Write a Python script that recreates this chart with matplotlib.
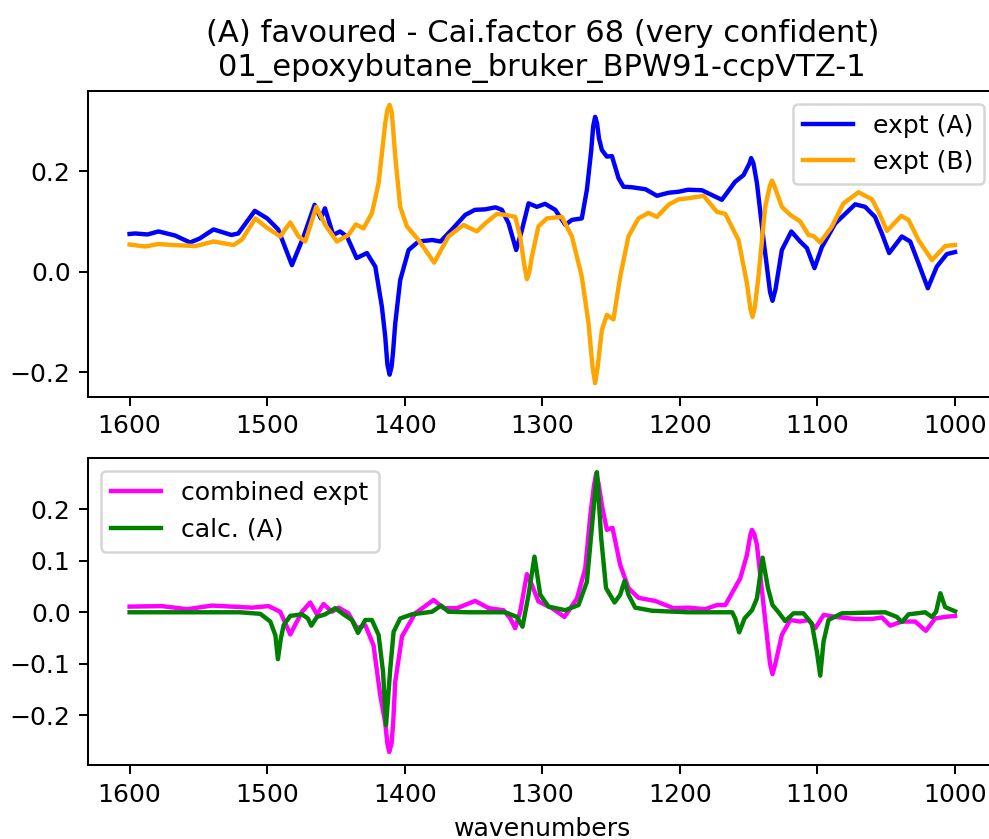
import matplotlib
matplotlib.use("Agg")
import matplotlib.pyplot as plt

# ---- data ----
wn_a = [1600, 1596, 1587, 1579, 1567, 1556, 1549, 1539, 1526, 1521, 1509, 1500, 1492, 1482,
        1473.5, 1465.5, 1461, 1458, 1452, 1447, 1442, 1435, 1427.5, 1421.4, 1416.6, 1414.2,
        1412.6, 1411, 1409.5, 1408.5, 1406.9, 1403.3, 1397.2, 1390, 1380, 1374, 1366, 1356,
        1349, 1341.5, 1334, 1329.4, 1324.5, 1319, 1314.8, 1310, 1304, 1298, 1290.6, 1283.3,
        1278.5, 1271.3, 1267.6, 1264.5, 1263, 1261.6, 1260.2, 1258.8, 1256.7, 1253.1, 1249.4,
        1244.6, 1241, 1235, 1225, 1216.7, 1208.3, 1201, 1194, 1184, 1169.5, 1159.8, 1153.8,
        1149.5, 1148.2, 1146.5, 1144, 1139.2, 1134.5, 1132.7, 1130.5, 1125.9, 1119, 1112.6,
        1107.7, 1102.2, 1096.8, 1087.1, 1072.6, 1065.4, 1058.2, 1053.2, 1047.9, 1038.7,
        1032.6, 1026.6, 1019.8, 1013.3, 1006, 1000]
expt_a = [0.075, 0.076, 0.074, 0.080, 0.072, 0.058, 0.066, 0.084, 0.073, 0.076, 0.121, 0.106,
          0.084, 0.013, 0.070, 0.133, 0.106, 0.126, 0.073, 0.080, 0.070, 0.027, 0.037, 0.010,
          -0.070, -0.129, -0.185, -0.205, -0.188, -0.160, -0.103, -0.017, 0.043, 0.060, 0.063,
          0.060, 0.083, 0.113, 0.123, 0.124, 0.128, 0.123, 0.096, 0.043, 0.083, 0.136, 0.129,
          0.135, 0.123, 0.093, 0.103, 0.106, 0.163, 0.240, 0.290, 0.308, 0.295, 0.265, 0.242,
          0.229, 0.230, 0.186, 0.169, 0.168, 0.164, 0.151, 0.157, 0.159, 0.163, 0.162, 0.143,
          0.179, 0.192, 0.215, 0.226, 0.215, 0.176, 0.063, -0.040, -0.058, -0.035, 0.043,
          0.080, 0.060, 0.047, 0.007, 0.049, 0.096, 0.134, 0.129, 0.109, 0.076, 0.037, 0.070,
          0.060, 0.017, -0.033, 0.010, 0.035, 0.039]

wn_b = [1600, 1588.6, 1579, 1569, 1552, 1539, 1524.4, 1518.3, 1508.6, 1501.4, 1490.5, 1483.2,
        1477.2, 1472.3, 1464.3, 1457.8, 1449.3, 1440.9, 1435.5, 1430, 1423.9, 1419, 1414.2,
        1412.6, 1411, 1409.5, 1408.3, 1406.9, 1403.3, 1398.4, 1390, 1378.6, 1368.2, 1357.3,
        1347.6, 1341.5, 1333, 1327, 1319.7, 1316.1, 1313.2, 1311.2, 1309.4, 1307.6, 1302.8,
        1296.7, 1285.8, 1278.5, 1271.3, 1266.4, 1263.5, 1261.6, 1259.8, 1256.7, 1253.1, 1248.3,
        1243.4, 1237.4, 1230.1, 1222.8, 1216.7, 1208.3, 1201, 1194, 1182.8, 1173.1, 1167,
        1157.4, 1151.3, 1148.7, 1147.2, 1145.5, 1142.9, 1138, 1134.5, 1133.1, 1131.5, 1125.9,
        1119.8, 1112.6, 1106.5, 1102.9, 1098, 1089.5, 1081.1, 1070.2, 1060.4, 1055.6, 1049.5,
        1039.1, 1033.8, 1026.6, 1016.8, 1007.2, 1000]
expt_b = [0.054, 0.050, 0.055, 0.053, 0.051, 0.060, 0.053, 0.064, 0.106, 0.090, 0.070, 0.098,
          0.070, 0.060, 0.129, 0.093, 0.060, 0.073, 0.094, 0.086, 0.116, 0.176, 0.295, 0.322,
          0.332, 0.318, 0.280, 0.229, 0.129, 0.090, 0.063, 0.018, 0.070, 0.093, 0.080, 0.096,
          0.115, 0.113, 0.109, 0.070, 0.015, -0.015, 0.000, 0.030, 0.090, 0.106, 0.109, 0.070,
          -0.010, -0.103, -0.190, -0.222, -0.190, -0.116, -0.086, -0.095, -0.010, 0.070, 0.106,
          0.117, 0.109, 0.133, 0.144, 0.146, 0.151, 0.119, 0.115, 0.063, -0.023, -0.075,
          -0.090, -0.070, -0.010, 0.129, 0.172, 0.181, 0.172, 0.129, 0.113, 0.100, 0.073, 0.071,
          0.058, 0.090, 0.136, 0.158, 0.144, 0.119, 0.081, 0.111, 0.103, 0.063, 0.023, 0.051,
          0.053]

wn_comb = [1600, 1576.5, 1558.3, 1540, 1511, 1499, 1490.5, 1483.2, 1474.7, 1468.7, 1463.8, 1459,
           1452.9, 1448, 1441, 1434.7, 1428.7, 1422.7, 1417.8, 1414.2, 1412.6, 1411.3, 1409.6,
           1408.4, 1406.9, 1402, 1392.4, 1379, 1371.8, 1362, 1348.8, 1339, 1328.2, 1323.3,
           1319.7, 1316.1, 1311.2, 1307.6, 1302.8, 1293, 1283.9, 1274.8, 1268.8, 1265.1, 1262.5,
           1260.8, 1259, 1256.7, 1253.1, 1249, 1243.4, 1237.4, 1230.1, 1218, 1204.7, 1194,
           1181.6, 1173.1, 1167, 1156.1, 1151.3, 1148.8, 1147.6, 1146, 1144, 1139.2, 1134.5,
           1132.7, 1130.8, 1125.9, 1119.8, 1112.6, 1106.5, 1101.6, 1095.5, 1087.1, 1072.6,
           1060.4, 1053.2, 1047.2, 1038.7, 1029, 1021.2, 1014.5, 1007.2, 1000]
combined = [0.011, 0.012, 0.006, 0.013, 0.009, 0.012, 0.001, -0.043, 0.001, 0.019, -0.004, 0.016,
            0.001, 0.009, -0.002, -0.031, -0.025, -0.064, -0.161, -0.215, -0.255, -0.271, -0.255,
            -0.215, -0.135, -0.047, -0.002, 0.024, 0.008, 0.008, 0.022, 0.008, 0.004, -0.012,
            -0.031, 0.001, 0.074, 0.053, 0.021, 0.008, -0.009, 0.027, 0.085, 0.189, 0.245, 0.270,
            0.248, 0.208, 0.160, 0.164, 0.092, 0.047, 0.028, 0.022, 0.008, 0.009, 0.006, 0.014,
            0.014, 0.066, 0.111, 0.150, 0.160, 0.152, 0.131, 0.014, -0.100, -0.120, -0.102,
            -0.044, -0.015, -0.018, -0.015, -0.031, -0.005, -0.009, -0.013, -0.013, -0.010,
            -0.026, -0.018, -0.018, -0.036, -0.012, -0.009, -0.007]

wn_calc = [1600, 1520, 1505, 1497.7, 1494, 1492.2, 1490, 1488, 1483.2, 1474.7, 1470.4, 1467.9,
           1463.8, 1457.8, 1450.5, 1444.5, 1438.4, 1434, 1428.7, 1423.9, 1419, 1415.8, 1413.6,
           1410.5, 1408.1, 1403.3, 1394.8, 1380.2, 1373.5, 1368.2, 1353.6, 1327, 1318.5, 1314.4,
           1310, 1305.7, 1301.5, 1295.5, 1283.3, 1273.7, 1267.6, 1263.6, 1260.3, 1257.2, 1253.7,
           1247.5, 1243.4, 1240.2, 1237.4, 1232.5, 1220.4, 1194, 1162, 1159.8, 1156.9, 1153,
           1147.6, 1144, 1139.9, 1136, 1132.7, 1128.3, 1123.5, 1117.4, 1110.2, 1104.1, 1100.4,
           1098, 1095.6, 1092, 1082.3, 1050.8, 1042.3, 1038.7, 1033.8, 1021.7, 1016.8, 1013.8,
           1010.7, 1007.2, 1000]
calc_a = [0.0, 0.0, -0.003, -0.018, -0.045, -0.091, -0.050, -0.025, -0.007, -0.004, -0.012,
          -0.026, -0.009, -0.004, 0.008, -0.004, -0.015, -0.040, -0.015, -0.015, -0.044, -0.115,
          -0.219, -0.109, -0.038, -0.012, -0.004, 0.001, 0.013, 0.001, 0.0, 0.0, -0.009, -0.028,
          0.034, 0.108, 0.034, 0.011, 0.004, 0.014, 0.059, 0.176, 0.272, 0.144, 0.047, 0.019,
          0.034, 0.061, 0.034, 0.009, 0.003, 0.0, 0.0, -0.012, -0.039, -0.012, 0.004, 0.027,
          0.106, 0.047, 0.014, 0.0, -0.017, -0.002, -0.002, -0.022, -0.077, -0.123, -0.057,
          -0.015, -0.002, 0.0, -0.009, -0.019, -0.004, 0.0, -0.009, 0.001, 0.037, 0.010, 0.002]

x_ticks = [1600, 1500, 1400, 1300, 1200, 1100, 1000]
top_yticks = [-0.2, 0.0, 0.2]
bottom_yticks = [-0.2, -0.1, 0.0, 0.1, 0.2]

title = ("(A) favoured - Cai.factor 68 (very confident)\n"
         "01_epoxybutane_bruker_BPW91-ccpVTZ-1")

# ---- figure ----
DPI = 181
LW = 1.75
fig = plt.figure(figsize=(990 / DPI, 839 / DPI), dpi=DPI)
ax1 = fig.add_axes([0.0892, 0.5272, 0.9172, 0.3644])
ax2 = fig.add_axes([0.0892, 0.0882, 0.9172, 0.3656])

ax1.plot(wn_a, expt_a, color="blue", lw=LW, label="expt (A)")
ax1.plot(wn_b, expt_b, color="orange", lw=LW, label="expt (B)")
ax1.set_xlim(1630, 970)
ax1.set_ylim(-0.2488, 0.3596)
ax1.set_xticks(x_ticks)
ax1.set_yticks(top_yticks)
ax1.legend(loc="upper right")
ax1.set_title(title, fontsize=12.2)

ax2.plot(wn_comb, combined, color="magenta", lw=LW, label="combined expt")
ax2.plot(wn_calc, calc_a, color="green", lw=LW, label="calc. (A)")
ax2.set_xlim(1630, 970)
ax2.set_ylim(-0.2965, 0.299)
ax2.set_xticks(x_ticks)
ax2.set_yticks(bottom_yticks)
ax2.legend(loc="upper left")
ax2.set_xlabel("wavenumbers")

fig.savefig("out.png", dpi=DPI)
